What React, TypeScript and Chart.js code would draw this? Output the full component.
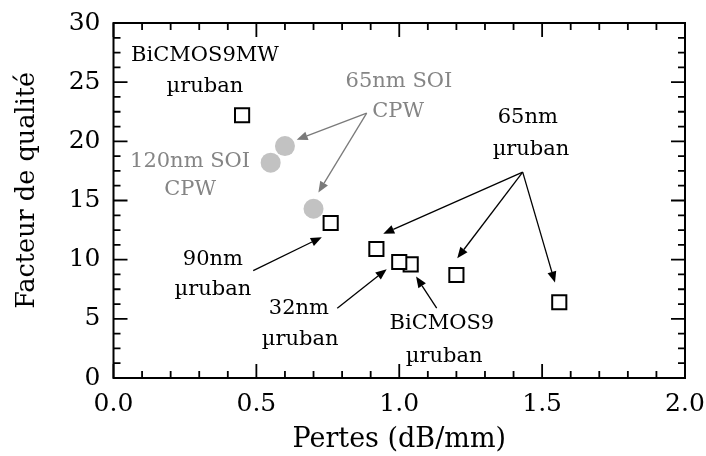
import React, { useEffect, useRef } from "react";
import { Chart, registerables } from "chart.js";

Chart.register(...registerables);

// ---- data ----
// µruban (black open squares); order chosen so overlapping marks stack like the reference
const squareX = [0.45, 0.76, 0.92, 1.04, 1.0, 1.2, 1.56];
const squareY = [22.2, 13.1, 10.9, 9.6, 9.8, 8.7, 6.4];
// SOI CPW (grey discs)
const circleX = [0.6, 0.55, 0.7];
const circleY = [19.6, 18.2, 14.3];

const xMin = 0, xMax = 2, xMajor = 0.5, xMinorDiv = 5;
const yMin = 0, yMax = 30, yMajor = 5, yMinorDiv = 4;

const xTitle = "Pertes (dB/mm)";
const yTitle = "Facteur de qualité";
// axis-title anchors (in data units along their axis)
const xTitleAt = 1.0;
const yTitleAt = 15.86;

// annotation labels
const labelTexts = ["BiCMOS9MW", "µruban", "65nm SOI", "CPW", "120nm SOI", "CPW", "65nm", "µruban", "90nm", "µruban", "32nm", "µruban", "BiCMOS9", "µruban"];
const labelX = [0.32, 0.32, 0.999, 0.996, 0.268, 0.268, 1.45, 1.461, 0.348, 0.348, 0.649, 0.653, 1.149, 1.157];
const labelY = [27.23, 24.59, 25.06, 22.52, 18.29, 15.9, 21.97, 19.28, 10.04, 7.44, 5.9, 3.21, 4.57, 1.8];
const labelGrey = [false, false, true, true, true, true, false, false, false, false, false, false, false, false];

// arrows: start -> tip
const arrowX0 = [0.886, 0.886, 1.432, 1.432, 1.432, 0.489, 0.783, 1.131];
const arrowY0 = [22.39, 22.39, 17.4, 17.4, 17.4, 9.08, 5.9, 5.9];
const arrowX1 = [0.641, 0.717, 0.944, 1.203, 1.545, 0.729, 0.956, 1.059];
const arrowY1 = [20.13, 15.67, 12.18, 10.12, 8.06, 11.9, 9.19, 8.57];
const arrowGrey = [true, true, false, false, false, false, false, false];

const FONT = "'DejaVu Serif', serif";
const GREY_TEXT = "#858585";
const GREY_MARK = "#c2c2c2";

const overlay = {
  id: "overlay",
  beforeDatasetsDraw(chart: any) {
    const { ctx, chartArea: a, scales } = chart;
    const xs = scales.x, ys = scales.y;
    ctx.save();
    ctx.strokeStyle = "#000";
    ctx.lineWidth = 1.8;
    const xStep = xMajor / xMinorDiv;
    const nx = Math.round((xMax - xMin) / xStep);
    for (let i = 0; i <= nx; i++) {
      const px = xs.getPixelForValue(xMin + i * xStep);
      const len = i % xMinorDiv === 0 ? 14 : 7;
      ctx.beginPath();
      ctx.moveTo(px, a.bottom); ctx.lineTo(px, a.bottom - len);
      ctx.moveTo(px, a.top); ctx.lineTo(px, a.top + len);
      ctx.stroke();
    }
    const yStep = yMajor / yMinorDiv;
    const ny = Math.round((yMax - yMin) / yStep);
    for (let i = 0; i <= ny; i++) {
      const py = ys.getPixelForValue(yMin + i * yStep);
      const len = i % yMinorDiv === 0 ? 14 : 7;
      ctx.beginPath();
      ctx.moveTo(a.left, py); ctx.lineTo(a.left + len, py);
      ctx.moveTo(a.right, py); ctx.lineTo(a.right - len, py);
      ctx.stroke();
    }
    ctx.lineWidth = 2;
    ctx.strokeRect(a.left, a.top, a.right - a.left, a.bottom - a.top);

    // axis titles
    ctx.fillStyle = "#000";
    ctx.textAlign = "center";
    ctx.textBaseline = "middle";
    ctx.font = `27px ${FONT}`;
    ctx.fillText(xTitle, xs.getPixelForValue(xTitleAt), 440);
    ctx.save();
    ctx.translate(27, ys.getPixelForValue(yTitleAt));
    ctx.rotate(-Math.PI / 2);
    ctx.font = `25.5px ${FONT}`;
    ctx.fillText(yTitle, 0, 0);
    ctx.restore();
    ctx.restore();
  },
  afterDatasetsDraw(chart: any) {
    const { ctx, scales } = chart;
    const xs = scales.x, ys = scales.y;
    ctx.save();
    for (let i = 0; i < arrowX0.length; i++) {
      const col = arrowGrey[i] ? "#7a7a7a" : "#000";
      const x0 = xs.getPixelForValue(arrowX0[i]);
      const y0 = ys.getPixelForValue(arrowY0[i]);
      const x1 = xs.getPixelForValue(arrowX1[i]);
      const y1 = ys.getPixelForValue(arrowY1[i]);
      const ang = Math.atan2(y1 - y0, x1 - x0);
      const hl = 11, hw = 4.5;
      const bx = x1 - hl * Math.cos(ang), by = y1 - hl * Math.sin(ang);
      ctx.strokeStyle = col;
      ctx.fillStyle = col;
      ctx.lineWidth = 1.3;
      ctx.beginPath();
      ctx.moveTo(x0, y0); ctx.lineTo(bx, by);
      ctx.stroke();
      ctx.beginPath();
      ctx.moveTo(x1, y1);
      ctx.lineTo(bx + hw * Math.sin(ang), by - hw * Math.cos(ang));
      ctx.lineTo(bx - hw * Math.sin(ang), by + hw * Math.cos(ang));
      ctx.closePath();
      ctx.fill();
    }
    ctx.font = `21px ${FONT}`;
    ctx.textAlign = "center";
    ctx.textBaseline = "middle";
    for (let i = 0; i < labelTexts.length; i++) {
      ctx.fillStyle = labelGrey[i] ? GREY_TEXT : "#000";
      ctx.fillText(labelTexts[i], xs.getPixelForValue(labelX[i]), ys.getPixelForValue(labelY[i]));
    }
    ctx.restore();
  },
};

const zeroPad = (s: any) => {
  s.paddingTop = 0; s.paddingBottom = 0; s.paddingLeft = 0; s.paddingRight = 0;
};

export default function App() {
  const ref = useRef<HTMLCanvasElement | null>(null);
  useEffect(() => {
    if (!ref.current) return;
    const chart = new Chart(ref.current, {
      type: "scatter",
      data: {
        datasets: [
          {
            label: "µruban",
            data: squareX.map((x, i) => ({ x, y: squareY[i] })),
            pointStyle: "rect",
            pointRadius: 10,
            pointHoverRadius: 10,
            backgroundColor: "#ffffff",
            borderColor: "#000000",
            borderWidth: 2,
            order: 0,
          },
          {
            label: "SOI CPW",
            data: circleX.map((x, i) => ({ x, y: circleY[i] })),
            pointStyle: "circle",
            pointRadius: 10,
            pointHoverRadius: 10,
            backgroundColor: GREY_MARK,
            borderColor: GREY_MARK,
            borderWidth: 0,
            order: 1,
          },
        ],
      },
      options: {
        animation: false,
        responsive: true,
        maintainAspectRatio: false,
        layout: { padding: { left: 0, top: 23, right: 21, bottom: 0 } },
        plugins: { legend: { display: false }, tooltip: { enabled: false } },
        scales: {
          x: {
            type: "linear",
            min: xMin,
            max: xMax,
            grid: { display: false, drawTicks: false },
            border: { display: false },
            ticks: {
              stepSize: xMajor,
              padding: 11,
              color: "#000",
              font: { family: FONT, size: 25 },
              callback: (v: any) => Number(v).toFixed(1),
            },
            title: { display: false },
            afterFit: (s: any) => { s.height = 78; zeroPad(s); },
          },
          y: {
            type: "linear",
            min: yMin,
            max: yMax,
            grid: { display: false, drawTicks: false },
            border: { display: false },
            ticks: {
              stepSize: yMajor,
              padding: 13,
              color: "#000",
              font: { family: FONT, size: 25 },
            },
            title: { display: false },
            afterFit: (s: any) => { s.width = 113.5; zeroPad(s); },
          },
        },
      },
      plugins: [overlay],
    });
    return () => chart.destroy();
  }, []);
  return (
    <div style={{ position: "fixed", left: 0, top: 0, width: 706, height: 456, background: "#fff" }}>
      <canvas ref={ref} />
    </div>
  );
}
